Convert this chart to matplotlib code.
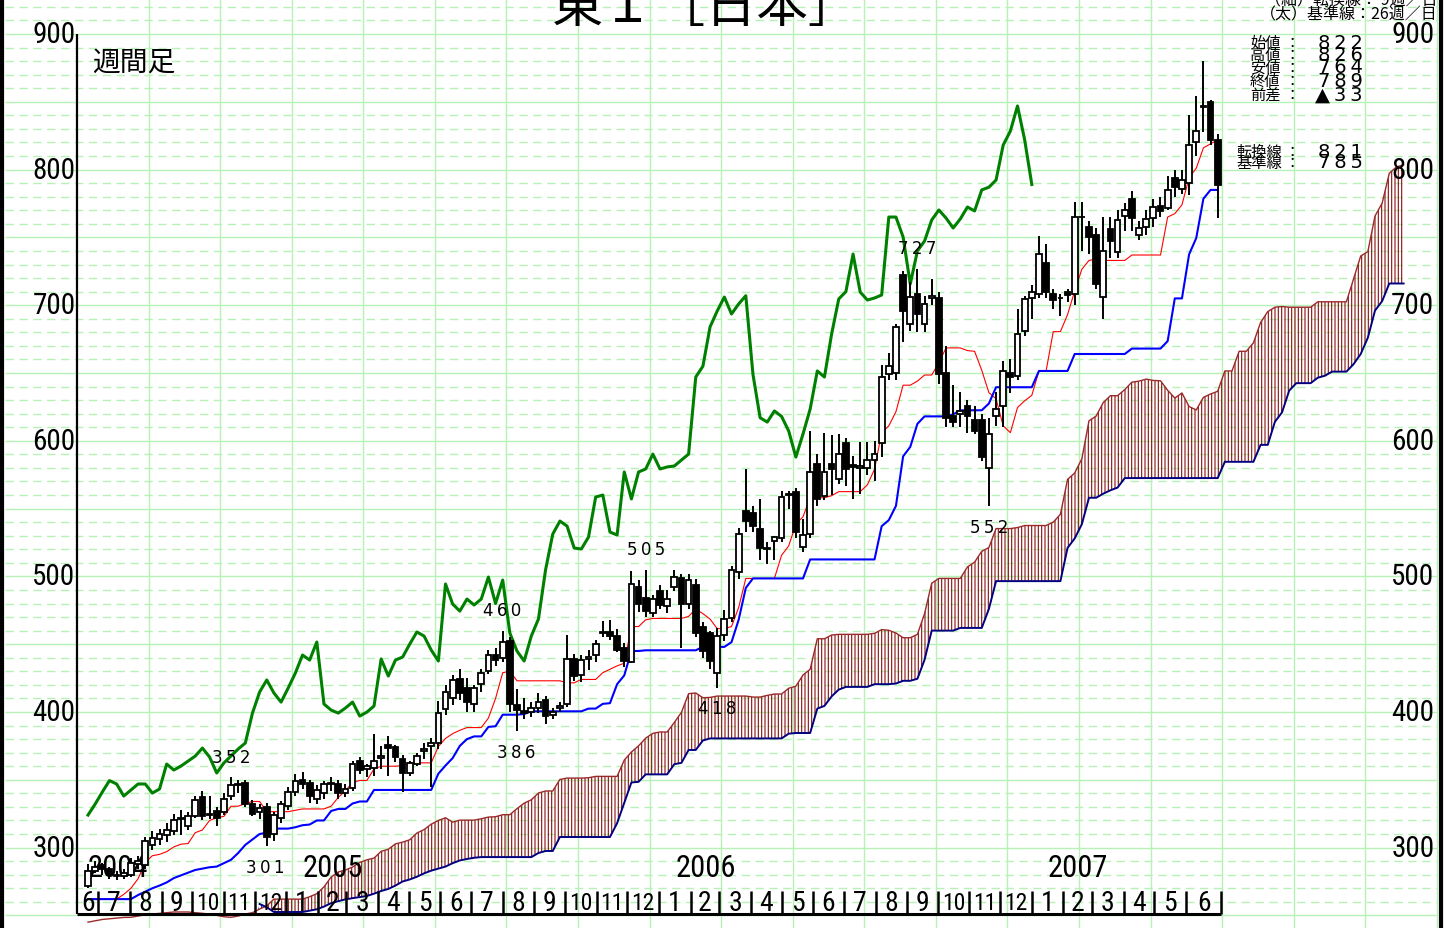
import numpy as np
import pandas as pd
import matplotlib
matplotlib.use("Agg")
import matplotlib.pyplot as plt

# weekly candles, first week 2004-06-21 (159 weeks)
opens = [272, 283, 287, 284, 280, 279, 280, 288, 287, 302,
         306, 309, 312, 322, 316, 323, 337, 325, 327, 326,
         338, 346, 348, 332, 326, 330, 310, 322, 331, 341,
         350, 348, 336, 340, 348, 347, 340, 344, 364, 358,
         359, 366, 376, 374, 365, 355, 362, 371, 375, 377,
         402, 410, 424, 418, 406, 421, 430, 442, 440, 452,
         405, 401, 400, 403, 409, 398, 403, 406, 439, 427,
         439, 442, 458, 459, 456, 447, 437, 492, 484, 473,
         489, 478, 492, 499, 480, 494, 463, 458, 429, 457,
         469, 503, 548, 547, 535, 521, 526, 528, 561, 562,
         522, 531, 583, 559, 583, 572, 598, 582, 580, 580,
         586, 598, 649, 650, 722, 686, 708, 686, 705, 705,
         650, 618, 620, 626, 615, 615, 580, 618, 626, 650,
         648, 681, 705, 708, 731, 708, 705, 710, 708, 765,
         758, 752, 706, 756, 739, 766, 778, 752, 758, 764,
         773, 772, 794, 786, 790, 820, 846, 850, 822]
highs = [288, 290, 289, 286, 283, 284, 292, 294, 308, 312,
         314, 318, 325, 328, 326, 338, 342, 338, 330, 340,
         352, 350, 350, 335, 332, 333, 326, 334, 345, 354,
         356, 350, 346, 349, 352, 350, 347, 364, 367, 362,
         384, 375, 382, 376, 368, 364, 370, 377, 381, 408,
         420, 427, 432, 425, 420, 432, 446, 447, 460, 455,
         417, 410, 407, 414, 412, 403, 407, 457, 443, 442,
         446, 453, 467, 468, 461, 451, 504, 497, 505, 486,
         494, 490, 505, 502, 502, 498, 466, 460, 462, 475,
         508, 536, 579, 552, 557, 525, 530, 563, 563, 565,
         542, 607, 590, 606, 604, 605, 602, 589, 599, 599,
         600, 656, 665, 686, 725, 717, 727, 707, 719, 710,
         670, 641, 636, 630, 626, 620, 617, 636, 659, 660,
         697, 707, 715, 751, 745, 712, 708, 712, 776, 776,
         762, 757, 765, 765, 770, 775, 784, 762, 770, 778,
         780, 795, 800, 800, 840, 854, 880, 851, 826]
lows = [270, 281, 280, 277, 276, 277, 278, 284, 284, 298,
        302, 304, 309, 309, 313, 322, 320, 321, 316, 324,
        335, 340, 330, 323, 321, 301, 305, 318, 328, 338,
        343, 333, 332, 336, 342, 336, 337, 342, 354, 352,
        353, 358, 353, 363, 341, 353, 360, 365, 345, 373,
        398, 405, 409, 400, 400, 415, 428, 434, 437, 400,
        386, 395, 396, 399, 391, 395, 400, 404, 423, 422,
        431, 437, 455, 453, 444, 433, 436, 474, 470, 470,
        476, 473, 489, 447, 476, 455, 440, 432, 418, 452,
        466, 498, 533, 533, 512, 509, 512, 525, 550, 528,
        518, 528, 552, 556, 560, 568, 567, 557, 561, 575,
        570, 588, 645, 645, 673, 681, 680, 680, 700, 642,
        610, 610, 610, 606, 605, 585, 552, 611, 610, 635,
        645, 677, 690, 705, 705, 697, 692, 702, 700, 740,
        738, 712, 690, 735, 735, 755, 755, 748, 752, 758,
        765, 770, 780, 782, 781, 810, 828, 818, 764]
closes = [283, 286, 284, 280, 279, 281, 289, 290, 305, 307,
          310, 313, 320, 321, 323, 335, 323, 324, 322, 336,
          346, 347, 332, 325, 329, 308, 324, 332.1, 341, 349.4,
          346.9, 338, 342.5, 346.9, 346.9, 340.2, 343.2, 361.6, 357.2, 360.1,
          363.8, 367.5, 373.4, 366.8, 355, 362.4, 367.5, 372.7, 377.1, 399.2,
          414.7, 423.6, 414, 407.3, 417.7, 428.7, 442, 438.3, 451.6, 405.9,
          401.4, 399.2, 402.9, 407.3, 397, 399.9, 404.4, 439.1, 426.5, 438.3,
          440.5, 450.1, 459, 456, 445.7, 437.6, 494.4, 479.6, 474.4, 483.3,
          478.9, 483.3, 499.5, 480, 497.3, 458.2, 444.9, 437.6, 456, 468.6,
          505, 531.2, 540.8, 537.1, 520.9, 520.2, 529, 558.5, 560, 532.7,
          530.5, 577, 557.1, 577, 579.2, 590.2, 579.2, 580.7, 581.4, 585.8,
          590.2, 647, 655, 684, 695.7, 706, 693.5, 700.9, 707, 649,
          617, 613.8, 622, 618, 607.2, 588, 605, 623.4, 651.5, 647,
          678.7, 704.6, 710, 737.7, 709.7, 703.8, 705.3, 707.5, 765, 765,
          750.3, 715.6, 740, 747.3, 762.8, 770.2, 764.3, 756.9, 763.6, 772.4,
          769.5, 785, 787, 792.3, 818.1, 828.4, 846.9, 822, 789]

tenkan_head = [262, 262, 262, 262, 262, 265.5, 270, 277]
kijun_head = [262, 262, 262, 262, 262, 262, 262, 265, 267.5, 270,
              272, 274.3, 277.5, 279.5, 281.5, 283.5, 284.5, 285.5, 286, 288.5,
              291, 296, 302, 306, 310]
span_a_head = [245, 246, 247, 247.5, 248, 248.5, 248.6, 249.5, 250.5, 251,
               251.5, 252, 252.5, 252.5, 252.5, 252, 251.5, 251, 250, 249,
               248.6, 249.5, 251, 252, 254.7, 257]
span_b_head = [240, 240, 240, 240, 240, 240, 240, 240, 240, 240,
               240, 240, 240, 240, 240, 240, 240, 240, 240, 240,
               240, 240, 240, 240, 258.4, 256, 252.5, 252.5, 252.5, 252.5,
               252.5, 253.5, 254.5, 256.5, 259, 260.5, 261.8, 262.7, 263.5, 264.3,
               266, 268, 269.5, 272, 275, 276.5, 278.5, 281, 283, 284.5,
               286, 288.5, 290.5, 291.6, 292.5, 293, 293, 293, 293, 293,
               293, 293, 293, 296, 297.5, 297.5, 307.8, 307.8, 307.8, 307.8,
               307.8, 307.8, 307.8, 307.8, 318, 333, 348]

year_labels = ["2004", "2005", "2006", "2007"]
year_pos = [4.2, 34.3, 86.4, 138.4]

note_text = ["352", "301", "460", "386", "505", "418", "727", "552"]
note_x = [20.0, 24.8, 57.9, 59.9, 78.0, 88.0, 115.9, 126.0]
note_y = [366.8, 285.7, 475.2, 370.5, 520.2, 402.9, 742.2, 536.4]

info_names = ["始値", "高値", "安値", "終値", "前差"]
info_values = ["822", "826", "764", "789", "▲33"]
line_names = ["転換線", "基準線"]
line_values = ["821", "785"]

NUM = ["Roboto Condensed", "Roboto", "DejaVu Sans"]
JP = ["Noto Sans CJK JP", "DejaVu Sans"]
SMALL = ["DejaVu Sans"]

plt.rcParams["hatch.linewidth"] = 0.8

n = len(closes)
x = np.arange(n)
o = np.array(opens, dtype=float)
c = np.array(closes, dtype=float)
h = pd.Series(highs, dtype=float)
l = pd.Series(lows, dtype=float)

tenkan = ((h.rolling(9).max() + l.rolling(9).min()) / 2).to_numpy()
tenkan[:8] = tenkan_head
kijun = ((h.rolling(26).max() + l.rolling(26).min()) / 2).to_numpy()
kijun[:25] = kijun_head
b_src = ((h.rolling(52).max() + l.rolling(52).min()) / 2).to_numpy()
span_a = np.concatenate([span_a_head, (tenkan + kijun) / 2])
span_b = np.concatenate([span_b_head, b_src[51:]])
xc = np.arange(len(span_a))

fig = plt.figure(figsize=(14.51, 9.29), dpi=100)
ax = fig.add_axes([0, 0, 1, 1])
ax.set_xlim(-12.31, 190.63)
ax.set_ylim(240.7, 925.8)
ax.axis("off")

grid = "#b6f2b6"
for v in range(250, 930, 10):
    if v % 50 == 0:
        ax.hlines(v, -11.6, 188.7, color=grid, lw=1.0, zorder=0)
    else:
        ax.hlines(v, -11.6, 188.7, color=grid, lw=1.0, linestyles=(0, (6, 4)), zorder=0)
for k in range(1, 20):
    ax.axvline(-1.54 + 10.01 * k, color=grid, lw=1.0, zorder=0)

# cloud (hatched between the two leading spans)
shown = xc >= 24
up = (span_a >= span_b) & shown
down = (span_a < span_b) & shown
ax.fill_between(xc, span_a, span_b, where=up, interpolate=True, facecolor="none",
                edgecolor="#8b1010", hatch="|||||", linewidth=0, zorder=1)
ax.fill_between(xc, span_a, span_b, where=down, interpolate=True, facecolor="none",
                edgecolor="#1010a0", hatch="|||||", linewidth=0, zorder=1)
ax.plot(xc, span_a, color="#9a2a2a", lw=1.0, zorder=2)
ax.plot(xc[24:], span_b[24:], color="#000080", lw=1.4, zorder=2)

ax.plot(x, tenkan, color="#ff0000", lw=0.8, zorder=2)
ax.plot(x, kijun, color="#0000ff", lw=1.5, zorder=2)
ax.plot(x[:-26], c[26:], color="#008000", lw=2.2, zorder=2)

# candles
ax.vlines(x, lows, highs, color="black", lw=1.4, zorder=3)
body_lo = np.minimum(o, c)
body_h = np.abs(c - o)
fill = np.where(c >= o, "white", "black")
ax.bar(x, body_h, bottom=body_lo, width=0.8, color=fill, edgecolor="black",
       linewidth=1.3, zorder=4)

# frame
ax.axvline(-12.0, color="black", lw=3.0, zorder=5)
ax.axvline(189.2, color="black", lw=3.0, zorder=5)
ax.vlines(-1.54, 251, 900, color="black", lw=1.6, zorder=5)
ax.hlines(251, -1.54, 158.5, color="black", lw=2.2, zorder=5)

# month ticks and labels
start = pd.Timestamp("2004-06-21")
months = pd.date_range("2004-07-01", "2007-06-01", freq="MS")
ticks = list((months - start).days / 7.0)
bounds = [-1.54] + ticks + [158.5]
names = ["6"] + [str(m.month) for m in months]
ax.vlines(ticks + [158.5], 251, 268, color="black", lw=1.8, zorder=5)
for a, b, s in zip(bounds[:-1], bounds[1:], names):
    fs = 20 if len(s) == 1 else 17
    ax.text((a + b) / 2, 259.8, s, family=NUM, fontsize=fs, ha="center", va="center", zorder=6)

for s, p in zip(year_labels, year_pos):
    ax.text(p, 285.6, s, family=NUM, fontsize=22, ha="center", va="center", zorder=2)

for v in range(300, 1000, 100):
    ax.text(-1.75, v, str(v), family=NUM, fontsize=21, ha="right", va="center", zorder=6)
    ax.text(188.3, v, str(v), family=NUM, fontsize=21, ha="right", va="center", zorder=6)

for s, px, py in zip(note_text, note_x, note_y):
    ax.text(px, py, "\u2009".join(s), family=SMALL, fontsize=12, ha="center", va="center", zorder=6)

ax.text(0.6, 879.3, "週間足", family=JP, fontsize=20, ha="left", va="center", zorder=6)
ax.text(86.4, 909.6, "東Ｉ［日本］", family=JP, fontsize=37, ha="center", va="baseline", zorder=6)

ax.text(188.7, 925.0, "（細）転換線： 9週／日", family=JP, fontsize=11.5, ha="right", va="center", zorder=6)
ax.text(188.7, 914.7, "（太）基準線：26週／日", family=JP, fontsize=11.5, ha="right", va="center", zorder=6)

info_y = [894, 885.2, 875.7, 866, 855.7]
for s, val, yy in zip(info_names, info_values, info_y):
    ax.text(162.5, yy, s, family=JP, fontsize=11, ha="left", va="center", zorder=6)
    ax.text(167.3, yy, "：", family=JP, fontsize=11, ha="left", va="center", zorder=6)
    ax.text(178.3, yy, "\u2009".join(val), family=SMALL, fontsize=14, ha="right", va="center", zorder=6)
for s, val, yy in zip(line_names, line_values, [813.7, 805.6]):
    ax.text(160.6, yy, s, family=JP, fontsize=11, ha="left", va="center", zorder=6)
    ax.text(167.3, yy, "：", family=JP, fontsize=11, ha="left", va="center", zorder=6)
    ax.text(178.3, yy, "\u2009".join(val), family=SMALL, fontsize=14, ha="right", va="center", zorder=6)

fig.savefig("out.png", dpi=100)
